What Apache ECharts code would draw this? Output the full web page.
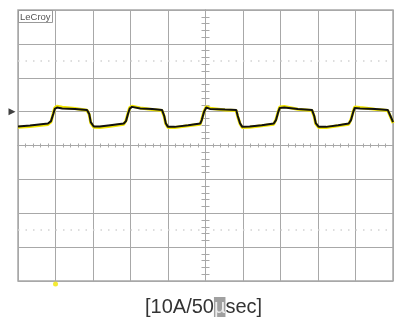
<!DOCTYPE html>
<html>
<head>
<meta charset="utf-8">
<script src="https://cdn.jsdelivr.net/npm/echarts@6/dist/echarts.min.js"></script>
<style>
  html, body { margin: 0; padding: 0; background: #fff; }
  #chart { width: 396px; height: 324px; }
</style>
</head>
<body>
<div id="chart"></div>
<script>
// time in µs (50µs/div), current in A (10A/div)
const times = [-250, -234, -210, -206, -203, -201, -198, -191, -174, -158, -155, -153, -149, -141, -127, -109, -106, -103, -101, -98, -87, -71, -58, -55, -53, -50, -41, -23, -7, -5, -2, 1, 6, 26, 41, 43, 46, 49, 59, 75, 91, 94, 97, 99, 105, 123, 142, 145, 147, 151, 161, 177, 191, 194, 197, 199, 206, 226, 243, 246, 249, 250]
const blackTrace = [5.6, 5.9, 6.5, 7.2, 9.3, 10.8, 11.2, 10.9, 10.8, 10.5, 9.3, 6.9, 5.6, 5.6, 6.0, 6.5, 7.2, 9.6, 10.9, 11.4, 10.9, 10.8, 10.5, 8.7, 6.6, 5.5, 5.5, 6.0, 6.5, 7.5, 9.9, 11.2, 10.8, 10.6, 10.5, 8.7, 6.6, 5.5, 5.6, 6.0, 6.5, 7.5, 9.9, 11.1, 11.2, 10.8, 10.5, 8.7, 6.6, 5.5, 5.5, 6.0, 6.5, 7.5, 9.9, 11.1, 10.9, 10.8, 10.5, 9.0, 7.5, 6.9]
const yellowTrace = [5.4, 5.6, 6.2, 7.0, 9.5, 11.1, 11.6, 11.3, 10.9, 10.4, 9.1, 6.7, 5.4, 5.3, 5.7, 6.3, 7.4, 9.8, 11.2, 11.6, 11.1, 10.6, 10.3, 8.5, 6.4, 5.3, 5.3, 5.8, 6.3, 7.7, 10.1, 11.5, 11.0, 10.5, 10.3, 8.5, 6.4, 5.3, 5.4, 5.8, 6.3, 7.7, 10.1, 11.4, 11.5, 10.7, 10.3, 8.5, 6.4, 5.3, 5.3, 5.8, 6.3, 7.7, 10.1, 11.4, 11.2, 10.7, 10.3, 8.8, 7.3, 6.6]
const dottedLevels = [25, -25]
const triggerLevel = 10
const triggerPos = [-200, -40]

const gridColor = '#a8a8a8'

const chart = echarts.init(document.getElementById('chart'))

const axisX = (pos) => ({
  type: 'value',
  position: pos,
  min: -250,
  max: 250,
  interval: 50,
  axisLine: { show: true, onZero: true, lineStyle: { color: gridColor, width: 1 } },
  axisTick: { show: true, inside: true, length: 2, lineStyle: { color: gridColor } },
  minorTick: { show: true, splitNumber: 5, length: 2, lineStyle: { color: gridColor } },
  axisLabel: { show: false },
  splitLine: { show: pos === 'bottom', lineStyle: { color: gridColor, width: 1 } }
})

const axisY = (pos) => ({
  type: 'value',
  position: pos,
  min: -40,
  max: 40,
  interval: 10,
  axisLine: { show: true, onZero: true, lineStyle: { color: gridColor, width: 1 } },
  axisTick: { show: true, inside: true, length: 4, lineStyle: { color: gridColor } },
  minorTick: { show: true, splitNumber: 5, length: 4, lineStyle: { color: gridColor } },
  axisLabel: { show: false },
  splitLine: { show: pos === 'left', lineStyle: { color: gridColor, width: 1 } }
})

const option = {
  animation: false,
  backgroundColor: '#fff',
  title: [
    {
      text: 'LeCroy',
      left: 18,
      top: 10,
      padding: [2, 2, 1, 2],
      borderColor: '#999',
      borderWidth: 1,
      textStyle: { fontSize: 9.5, fontWeight: 'normal', color: '#555', fontFamily: 'Liberation Sans' }
    },
    {
      text: '{a|[10A/50}{m|µ}{a|sec]}',
      left: 145,
      top: 297,
      padding: 0,
      textStyle: {
        fontWeight: 'normal',
        rich: {
          a: { fontSize: 20, fontWeight: 'normal', color: '#333', fontFamily: 'Liberation Sans' },
          m: { fontSize: 20, fontWeight: 'normal', color: '#eee', backgroundColor: '#a0a0a0', fontFamily: 'Liberation Sans' }
        }
      }
    }
  ],
  grid: {
    left: 18,
    top: 10,
    width: 375,
    height: 271,
    show: true,
    borderColor: gridColor,
    borderWidth: 1.5
  },
  xAxis: [axisX('bottom'), axisX('top')],
  yAxis: [axisY('left'), axisY('right')],
  series: [
    {
      type: 'line',
      data: times.map((t, i) => [t, yellowTrace[i]]),
      symbol: 'none',
      lineStyle: { color: '#f2e600', width: 3 },
      markLine: {
        silent: true,
        symbol: 'none',
        label: { show: false },
        lineStyle: { color: '#d2d2d2', width: 1.5, type: [1.5, 6] },
        data: dottedLevels.map(v => ({ yAxis: v }))
      }
    },
    {
      type: 'line',
      data: times.map((t, i) => [t, blackTrace[i]]),
      symbol: 'none',
      lineStyle: { color: '#111', width: 2 }
    },
    {
      type: 'scatter',
      data: [[-250, triggerLevel]],
      symbol: 'triangle',
      symbolRotate: -90,
      symbolSize: 7,
      symbolOffset: [-6, 0],
      clip: false,
      itemStyle: { color: '#111' }
    },
    {
      type: 'scatter',
      data: [triggerPos],
      symbol: 'circle',
      symbolSize: 5,
      symbolOffset: [0, 3],
      clip: false,
      itemStyle: { color: '#f2e600' }
    }
  ]
}

chart.setOption(option)
</script>
</body>
</html>
